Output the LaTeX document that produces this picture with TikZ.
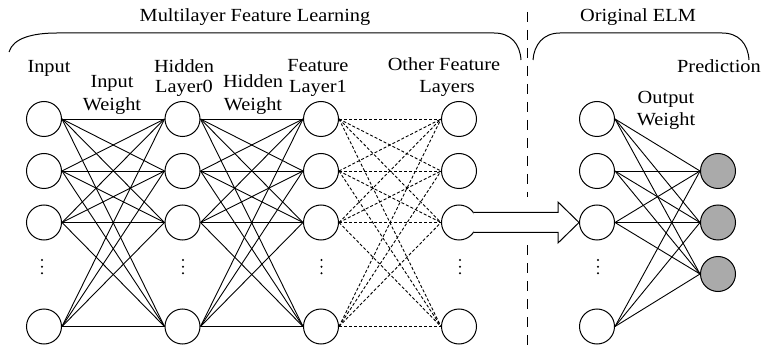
\documentclass[tikz,border=0pt]{standalone}
\usepackage{fontspec}
\setmainfont{Liberation Serif}[FakeStretch=1.1]
\usetikzlibrary{calc}
\definecolor{outgray}{RGB}{170,170,170}
\begin{document}
\begin{tikzpicture}[x=1pt,y=-1pt,
  neuron/.style={circle,draw,line width=1pt,minimum size=35pt,inner sep=0pt,fill=white},
  outn/.style={neuron,fill=outgray},
  lbl/.style={font=\fontsize{18.5}{22}\selectfont,anchor=base,inner sep=0pt},
  conn/.style={line width=0.9pt},
  dconn/.style={line width=0.9pt,dash pattern=on 3pt off 2pt},
  brace/.style={line width=1pt},
  sep/.style={line width=1pt,dash pattern=on 10pt off 8pt},
  arrowbox/.style={line width=1pt,fill=white,line join=miter},
  vdot/.style={circle,fill,inner sep=0pt,minimum size=2.2pt}
]
\useasboundingbox (0,0) rectangle (762,347);

% neurons
\foreach \c/\x in {a/44,b/182.5,c/321,d/459,e/597}{
  \foreach \r/\y in {1/119,2/171,3/222.5,5/326.5}{
    \node[neuron] (\c\r) at (\x,\y) {};
  }
}
\node[outn] (o2) at (718,171) {};
\node[outn] (o3) at (718,222.5) {};
\node[outn] (o4) at (718,274) {};

% vertical dots
\foreach \c/\x in {a/42,b/183,c/321.5,d/460,e/598}{
  \foreach \k/\y in {1/260,2/266.7,3/273.3}{
    \node[vdot] (\c dot\k) at (\x,\y) {};
  }
}

% connections
\foreach \i in {1,2,3,5}{
  \foreach \j in {1,2,3,5}{
    \draw[conn] (a\i.east) -- (b\j.west);
    \draw[conn] (b\i.east) -- (c\j.west);
    \draw[dconn] (c\i.east) -- (d\j.west);
  }
  \foreach \j in {2,3,4}{
    \draw[conn] (e\i.east) -- (o\j.west);
  }
}

% block arrow
\draw[arrowbox] ($(d3.center)+(14.4,-10)$) -- ($(e3.west)+(-21,-10)$) -- ($(e3.west)+(-21,-20.5)$)
  -- (e3.west) -- ($(e3.west)+(-21,20.5)$) -- ($(e3.west)+(-21,10)$) -- ($(d3.center)+(14.4,10)$);

% separator
\coordinate (s0) at (527.7,12);
\coordinate (s1) at (527.7,197);
\coordinate (s2) at (527.7,245);
\coordinate (s3) at (527.7,347);
\draw[sep] (s0) -- (s1);
\draw[sep] (s2) -- (s3);

% braces
\draw[brace] (9,52) .. controls (13,38) and (33,33) .. (57,33) -- (494,33)
  .. controls (511,33) and (520,44) .. (521,60);
\draw[brace] (533,60) .. controls (534,45) and (543,33) .. (560,33) -- (722,33)
  .. controls (739,33) and (748,44) .. (749,60);

% titles
\node[lbl] (t1) at (255,22) {Multilayer Feature Learning};
\node[lbl] (t2) at (638,22) {Original ELM};

% labels
\node[lbl] (l1) at (49,73) {Input};
\node[lbl] (l2a) at (112,88) {Input};
\node[lbl] (l2b) at (112,110.5) {Weight};
\node[lbl] (l3a) at (184,72.5) {Hidden};
\node[lbl] (l3b) at (184,93) {Layer0};
\node[lbl] (l4a) at (253,88) {Hidden};
\node[lbl] (l4b) at (253,110.5) {Weight};
\node[lbl] (l5a) at (318,72) {Feature};
\node[lbl] (l5b) at (318,93) {Layer1};
\node[lbl] (l6a) at (444,71) {Other Feature};
\node[lbl] (l6b) at (447,93) {Layers};
\node[lbl,anchor=base east] (l7) at (761,73) {Prediction};
\node[lbl] (l8a) at (666,104) {Output};
\node[lbl] (l8b) at (666,126) {Weight};
\end{tikzpicture}
\end{document}
